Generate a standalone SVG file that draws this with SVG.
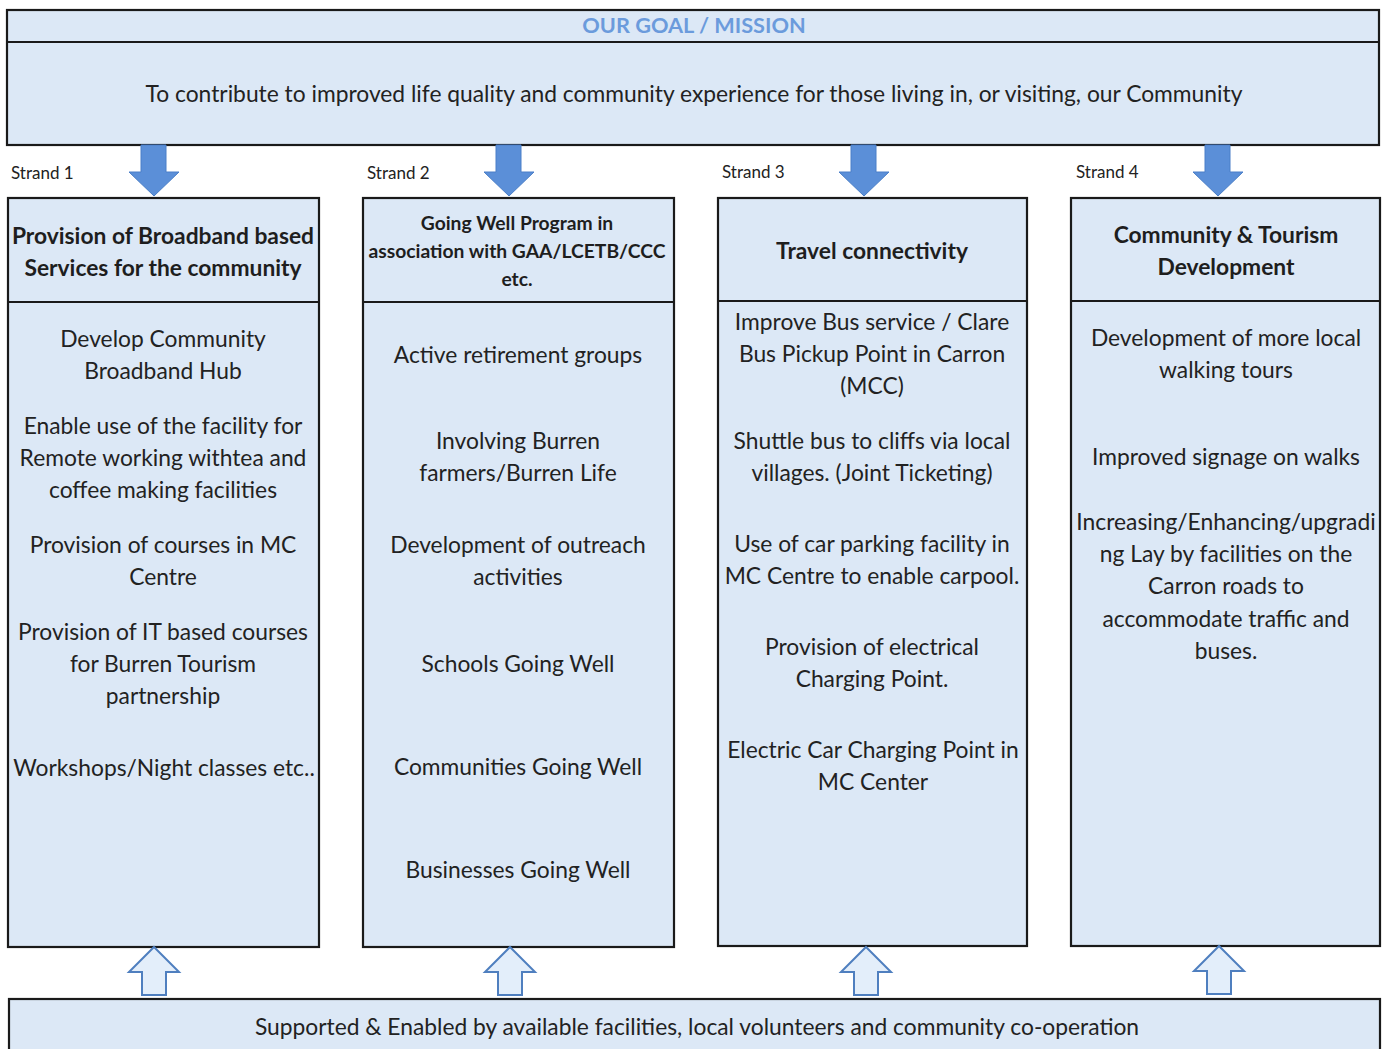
<svg xmlns="http://www.w3.org/2000/svg" width="1387" height="1049" viewBox="0 0 1387 1049">
  <defs>
    <style>
      .box { fill: #dce8f6; stroke: #1a1a1a; stroke-width: 2.2; }
      .rule { stroke: #1a1a1a; stroke-width: 2.2; }
      .t { font-family: Lato, "Liberation Sans", sans-serif; font-size: 22.8px; fill: #222; text-anchor: middle; }
      .h { font-family: Lato, "Liberation Sans", sans-serif; font-size: 22.8px; font-weight: bold; fill: #1e1e1e; text-anchor: middle; }
      .hs { font-family: Lato, "Liberation Sans", sans-serif; font-size: 19.3px; font-weight: bold; fill: #1e1e1e; text-anchor: middle; }
      .lbl { font-family: Lato, "Liberation Sans", sans-serif; font-size: 17px; fill: #222; }
      .title { font-family: Lato, "Liberation Sans", sans-serif; font-size: 21.7px; font-weight: bold; fill: #6b9bdc; text-anchor: middle; }
      .down { fill: #5b8fd8; stroke: #4a7fc8; stroke-width: 1; }
      .up { fill: #e3eefa; stroke: #4f7fbf; stroke-width: 2; }
    </style>
    <!-- block arrows pointing down (filled) and up (outline), drawn at origin = tip -->
    <path id="arrowDown" d="M -13 -51 L 12 -51 L 12 -24 L 25 -24 L 0 0 L -25 -24 L -13 -24 Z"/>
    <path id="arrowUp" d="M 0 0 L 25 25 L 12 25 L 12 48 L -12 48 L -12 25 L -25 25 Z"/>
  </defs>

  <rect width="1387" height="1049" fill="#ffffff"/>

  <!-- goal / mission banner -->
  <g id="mission">
    <rect class="box" x="7" y="10" width="1372" height="135"/>
    <line class="rule" x1="7" y1="42" x2="1379" y2="42"/>
    <text class="title" x="694" y="33">OUR GOAL / MISSION</text>
    <text class="t" x="694" y="102">To contribute to improved life quality and community experience for those living in, or visiting, our Community</text>
  </g>

  <!-- strand labels -->
  <g id="strand-labels">
    <text class="lbl" x="11" y="179">Strand 1</text>
    <text class="lbl" x="367" y="179">Strand 2</text>
    <text class="lbl" x="722" y="178">Strand 3</text>
    <text class="lbl" x="1076" y="178">Strand 4</text>
  </g>

  <!-- strand 1 -->
  <g id="strand1">
    <rect class="box" x="8" y="198" width="311" height="749"/>
    <line class="rule" x1="8" y1="302" x2="319" y2="302"/>
    <text class="h" x="163" y="244">Provision of Broadband based</text>
    <text class="h" x="163" y="276">Services for the community</text>
    <text class="t" x="163" y="347">Develop Community</text>
    <text class="t" x="163" y="379">Broadband Hub</text>
    <text class="t" x="163" y="434">Enable use of the facility for</text>
    <text class="t" x="163" y="466">Remote working withtea and</text>
    <text class="t" x="163" y="498">coffee making facilities</text>
    <text class="t" x="163" y="553">Provision of courses in MC</text>
    <text class="t" x="163" y="585">Centre</text>
    <text class="t" x="163" y="640">Provision of IT based courses</text>
    <text class="t" x="163" y="672">for Burren Tourism</text>
    <text class="t" x="163" y="704">partnership</text>
    <text class="t" x="164" y="776">Workshops/Night classes etc..</text>
  </g>

  <!-- strand 2 -->
  <g id="strand2">
    <rect class="box" x="363" y="198" width="311" height="749"/>
    <line class="rule" x1="363" y1="302" x2="674" y2="302"/>
    <text class="hs" x="517" y="230">Going Well Program in</text>
    <text class="hs" x="517" y="258">association with GAA/LCETB/CCC</text>
    <text class="hs" x="517" y="286">etc.</text>
    <text class="t" x="518" y="363">Active retirement groups</text>
    <text class="t" x="518" y="449">Involving Burren</text>
    <text class="t" x="518" y="481">farmers/Burren Life</text>
    <text class="t" x="518" y="553">Development of outreach</text>
    <text class="t" x="518" y="585">activities</text>
    <text class="t" x="518" y="672">Schools Going Well</text>
    <text class="t" x="518" y="775">Communities Going Well</text>
    <text class="t" x="518" y="878">Businesses Going Well</text>
  </g>

  <!-- strand 3 -->
  <g id="strand3">
    <rect class="box" x="718" y="198" width="309" height="748"/>
    <line class="rule" x1="718" y1="301" x2="1027" y2="301"/>
    <text class="h" x="872" y="259">Travel connectivity</text>
    <text class="t" x="872" y="330">Improve Bus service / Clare</text>
    <text class="t" x="872" y="362">Bus Pickup Point in Carron</text>
    <text class="t" x="872" y="394">(MCC)</text>
    <text class="t" x="872" y="449">Shuttle bus to cliffs via local</text>
    <text class="t" x="872" y="481">villages. (Joint Ticketing)</text>
    <text class="t" x="872" y="552">Use of car parking facility in</text>
    <text class="t" x="872" y="584">MC Centre to enable carpool.</text>
    <text class="t" x="872" y="655">Provision of electrical</text>
    <text class="t" x="872" y="687">Charging Point.</text>
    <text class="t" x="873" y="758">Electric Car Charging Point in</text>
    <text class="t" x="873" y="790">MC Center</text>
  </g>

  <!-- strand 4 -->
  <g id="strand4">
    <rect class="box" x="1071" y="198" width="309" height="748"/>
    <line class="rule" x1="1071" y1="301" x2="1380" y2="301"/>
    <text class="h" x="1226" y="243">Community &amp; Tourism</text>
    <text class="h" x="1226" y="275">Development</text>
    <text class="t" x="1226" y="346">Development of more local</text>
    <text class="t" x="1226" y="378">walking tours</text>
    <text class="t" x="1226" y="465">Improved signage on walks</text>
    <text class="t" x="1226" y="530">Increasing/Enhancing/upgradi</text>
    <text class="t" x="1226" y="562">ng Lay by facilities on the</text>
    <text class="t" x="1226" y="594">Carron roads to</text>
    <text class="t" x="1226" y="627">accommodate traffic and</text>
    <text class="t" x="1226" y="659">buses.</text>
  </g>

  <!-- foundation banner -->
  <g id="foundation">
    <rect class="box" x="9" y="999" width="1371" height="60"/>
    <text class="t" x="697" y="1035">Supported &amp; Enabled by available facilities, local volunteers and community co-operation</text>
  </g>

  <!-- connectors: mission feeds each strand, foundation supports each strand -->
  <g id="connectors">
    <use href="#arrowDown" class="down" x="154" y="196"/>
    <use href="#arrowDown" class="down" x="509" y="196"/>
    <use href="#arrowDown" class="down" x="864" y="196"/>
    <use href="#arrowDown" class="down" x="1218" y="196"/>
    <use href="#arrowUp" class="up" x="154" y="947"/>
    <use href="#arrowUp" class="up" x="510" y="947"/>
    <use href="#arrowUp" class="up" x="866" y="947"/>
    <use href="#arrowUp" class="up" x="1219" y="946"/>
  </g>
</svg>
